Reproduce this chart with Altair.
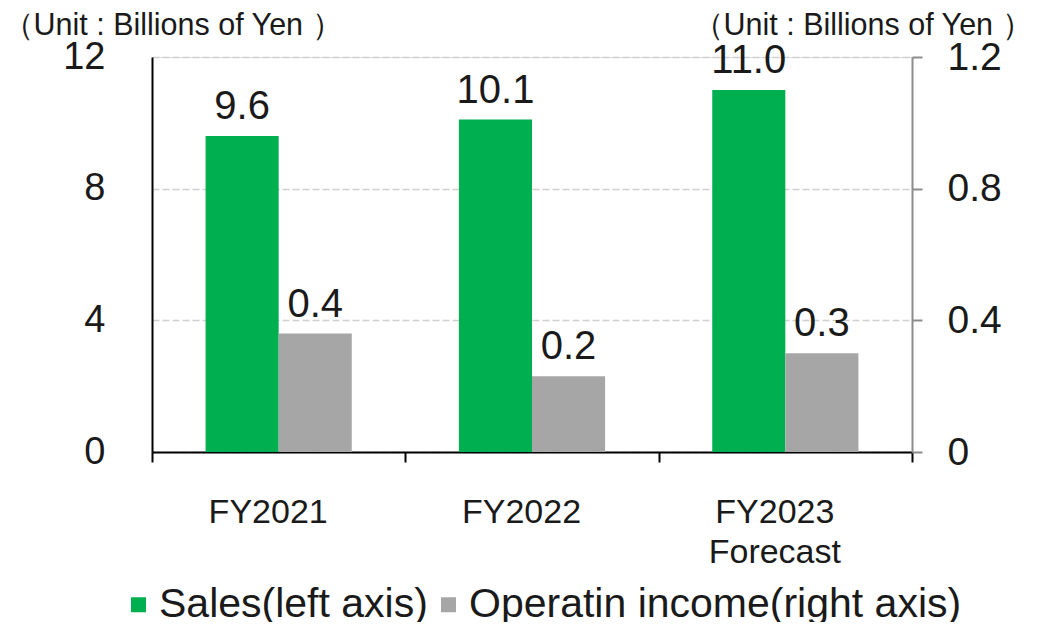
import altair as alt
import pandas as pd

categories = ["FY2021", "FY2022", "FY2023 Forecast"]
series = ["Sales(left axis)", "Operatin income(right axis)"]
sales = [9.6, 10.1, 11.0]
income = [0.36, 0.23, 0.30]
left_ticks = [0, 4, 8, 12]
right_ticks = [0, 0.4, 0.8, 1.2]
unit_title = "（Unit : Billions of Yen ）"
colors = ["#00B050", "#A6A6A6"]

FONT = "Liberation Sans"
TXT = "#1a1a1a"

df_sales = pd.DataFrame({"cat": categories, "series": series[0], "value": sales})
df_inc = pd.DataFrame({"cat": categories, "series": series[1], "value": income})

x_enc = alt.X(
    "cat:N",
    sort=categories,
    scale=alt.Scale(domain=categories, paddingInner=0, paddingOuter=0),
    axis=alt.Axis(
        title=None, labelAngle=0, labelFontSize=34, labelFont=FONT, labelColor=TXT,
        labelPadding=33, tickSize=10, tickColor="black", tickWidth=2,
        tickBand="extent", domainColor="black", domainWidth=2, labelOffset=-11,
        labelLineHeight=40, labelExpr="split(datum.label, ' ')",
    ),
)
xoff_enc = alt.XOffset(
    "series:N",
    scale=alt.Scale(domain=series, paddingInner=0, paddingOuter=0.733),
)
color_enc = alt.Color(
    "series:N",
    scale=alt.Scale(domain=series, range=colors),
    legend=alt.Legend(
        title=None, orient="none", legendX=-34, legendY=527, direction="horizontal",
        labelFontSize=41, labelFont=FONT, labelColor=TXT, symbolType="square",
        symbolSize=225, symbolStrokeWidth=0, columnPadding=0, labelOffset=0,
        labelLimit=800, padding=0,
    ),
)

y_left = alt.Y(
    "value:Q",
    scale=alt.Scale(domain=[0, 12], nice=False),
    axis=alt.Axis(
        orient="left", values=left_ticks, domainColor="black", domainWidth=2,
        ticks=False, tickSize=0, labelFontSize=38, labelFont=FONT, labelColor=TXT,
        labelPadding=47, grid=True, gridDash=[7, 3], gridColor="#d0d0d0", gridWidth=1.5,
        title=unit_title, titleAngle=0, titleX=-150, titleY=-23, titleAlign="left",
        titleBaseline="alphabetic", titleFontSize=30.5, titleFont=FONT,
        titleFontWeight="normal", titleColor=TXT,
    ),
)
y_right = alt.Y(
    "value:Q",
    scale=alt.Scale(domain=[0, 1.2], nice=False),
    axis=alt.Axis(
        orient="right", values=right_ticks, domainColor="#8c8c8c", domainWidth=2,
        tickColor="#8c8c8c", tickSize=10, tickWidth=2, labelFontSize=39,
        labelFont=FONT, labelColor=TXT, labelPadding=25, grid=False,
        labelExpr="datum.value == 0 ? '0' : format(datum.value, '.1f')",
        title=unit_title, titleAngle=0, titleX=-220, titleY=-23, titleAlign="left",
        titleBaseline="alphabetic", titleFontSize=30.5, titleFont=FONT,
        titleFontWeight="normal", titleColor=TXT,
    ),
)

sales_bar = alt.Chart(df_sales).mark_bar().encode(
    x=x_enc, xOffset=xoff_enc, y=y_left, color=color_enc
)
sales_txt = alt.Chart(df_sales).mark_text(
    dy=-17, baseline="alphabetic", fontSize=40, font=FONT, color=TXT
).encode(
    x=alt.X("cat:N", sort=categories), xOffset="series:N",
    y=alt.Y("value:Q"), text=alt.Text("value:Q", format=".1f")
)
inc_bar = alt.Chart(df_inc).mark_bar().encode(
    x=alt.X("cat:N", sort=categories), xOffset="series:N", y=y_right, color="series:N"
)
inc_txt = alt.Chart(df_inc).mark_text(
    dy=-17, baseline="alphabetic", fontSize=40, font=FONT, color=TXT
).encode(
    x=alt.X("cat:N", sort=categories), xOffset="series:N",
    y=alt.Y("value:Q"), text=alt.Text("value:Q", format=".1f")
)

chart = alt.layer(
    alt.layer(sales_bar, sales_txt),
    alt.layer(inc_bar, inc_txt),
).resolve_scale(y="independent").properties(
    width=760, height=395,
    autosize=alt.AutoSizeParams(type="none"),
    padding={"left": 144, "top": 49, "right": 135, "bottom": 170},
).configure_view(stroke=None).configure(background="white")

chart.save("out.html", embed_options={"renderer": "svg", "actions": False})
